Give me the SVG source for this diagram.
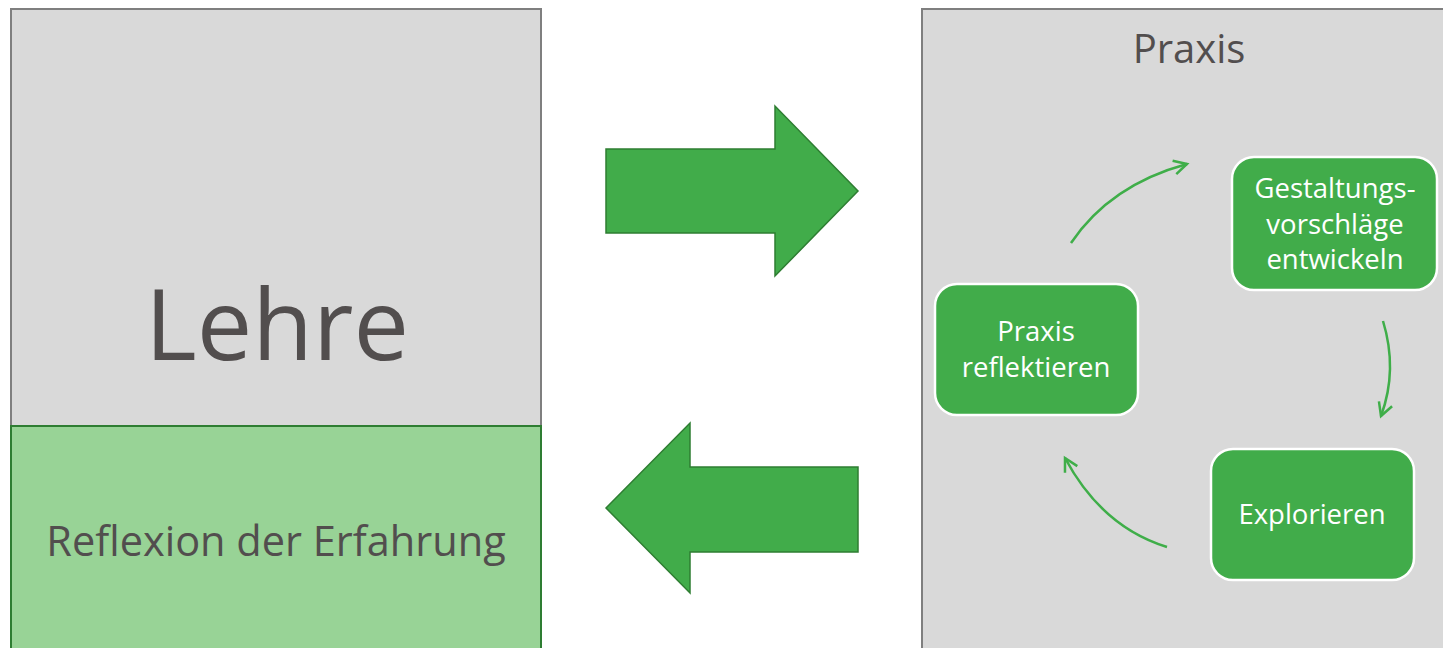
<svg xmlns="http://www.w3.org/2000/svg" width="1443" height="648" viewBox="0 0 1443 648">
<style>
.panel{fill:#d9d9d9;stroke:#7f7f7f;stroke-width:2}
.refl{fill:#98d396;stroke:#2e7d32;stroke-width:2}
.big{fill:#41ac4a;stroke:#2e7d32;stroke-width:1.5}
.node{fill:#41ac4a;stroke:#ffffff;stroke-width:2.5}
.dark{font-family:"Open Sans","Noto Sans",sans-serif;fill:#524e4e;text-anchor:middle}
.wt{font-family:"Open Sans","Noto Sans",sans-serif;fill:#ffffff;text-anchor:middle;font-size:27.5px}
.conn{fill:none;stroke:#3fae49;stroke-width:2.5}
</style>
<defs>
<marker id="arr" markerUnits="userSpaceOnUse" markerWidth="20" markerHeight="20" refX="14" refY="8" orient="auto" viewBox="0 0 20 16">
<path d="M1,1 L14,8 L1,15" fill="none" stroke="#3fae49" stroke-width="2.5"/>
</marker>
</defs>
<rect width="1443" height="648" fill="#ffffff"/>
<g id="lehre">
<rect class="panel" x="11" y="9" width="530" height="417"/>
<text class="dark" x="277" y="360" font-size="99">Lehre</text>
</g>
<g id="reflexion">
<rect class="refl" x="11" y="426" width="530" height="230"/>
<text class="dark" x="276" y="556" font-size="41.5">Reflexion der Erfahrung</text>
</g>
<g id="arrow-right">
<polygon class="big" points="606,149 775,149 775,106 858,191 775,276 775,233 606,233"/>
</g>
<g id="arrow-left">
<polygon class="big" points="606,508 690,423 690,467 858,467 858,552 690,552 690,593"/>
</g>
<g id="praxis">
<rect class="panel" x="922" y="9" width="530" height="650"/>
<text class="dark" x="1189" y="63" font-size="40">Praxis</text>
</g>
<g id="gestaltung">
<rect class="node" x="1232" y="157" width="205" height="133" rx="22"/>
<text class="wt" x="1335" y="198">Gestaltungs-</text>
<text class="wt" x="1335" y="234">vorschläge</text>
<text class="wt" x="1335" y="269">entwickeln</text>
</g>
<g id="reflektieren">
<rect class="node" x="935" y="284" width="203" height="131" rx="22"/>
<text class="wt" x="1036" y="341">Praxis</text>
<text class="wt" x="1036" y="377">reflektieren</text>
</g>
<g id="explorieren">
<rect class="node" x="1211" y="449" width="203" height="131" rx="22"/>
<text class="wt" x="1312" y="524">Explorieren</text>
</g>
<g id="connectors">
<path class="conn" d="M1071,243 Q1110,185 1187,164" marker-end="url(#arr)"/>
<path class="conn" d="M1383,321 Q1398,370 1381,416" marker-end="url(#arr)"/>
<path class="conn" d="M1167,547 Q1102,527 1065,458" marker-end="url(#arr)"/>
</g>
</svg>
